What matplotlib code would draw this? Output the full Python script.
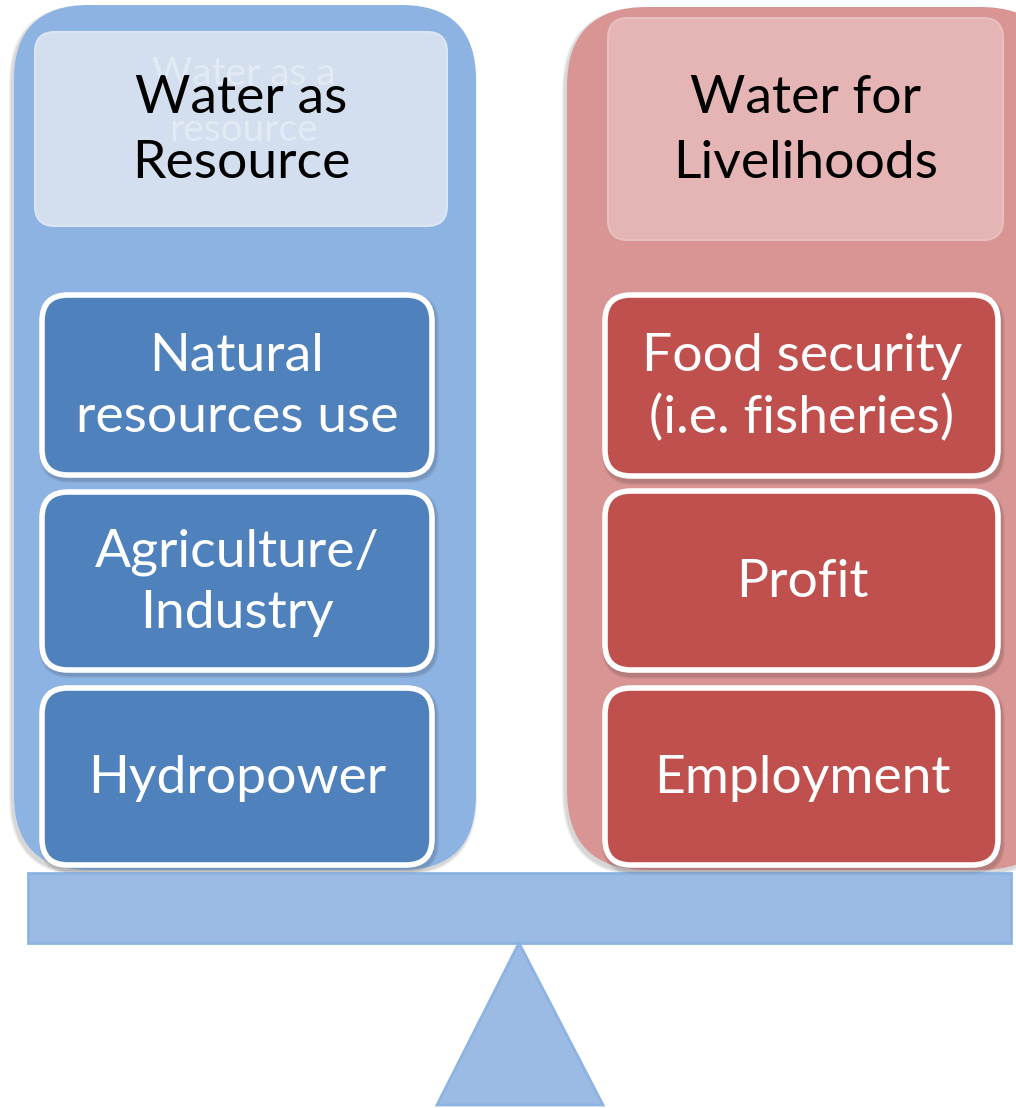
import matplotlib
matplotlib.use("Agg")
import matplotlib.pyplot as plt
from matplotlib.patches import FancyBboxPatch, Polygon, Rectangle

# ---- content ----
headers = ["Water as\nResource", "Water for\nLivelihoods"]
ghost_header = "Water as a\nresource"
left_items = ["Natural\nresources use", "Agriculture/\nIndustry", "Hydropower"]
right_items = ["Food security\n(i.e. fisheries)", "Profit", "Employment"]

# ---- colours ----
left_outer_c = "#8DB3E2"
left_head_c = "#D3DFEE"
left_item_c = "#4F81BD"
right_outer_c = "#D99594"
right_head_c = "#E5B4B4"
right_item_c = "#C0504D"
beam_c = "#9BBBE4"
beam_edge = "#8DB3E2"

W, H = 1016, 1108
fig = plt.figure(figsize=(W / 100, H / 100), dpi=100)
ax = fig.add_axes([0, 0, 1, 1])
ax.set_xlim(0, W)
ax.set_ylim(H, 0)
ax.axis("off")

FONT = "Lato"
FS = 38.5


def rbox(x0, y0, x1, y1, r, fc, ec="none", lw=0, z=1, alpha=1.0):
    p = FancyBboxPatch((x0, y0), x1 - x0, y1 - y0,
                       boxstyle=f"round,pad=0,rounding_size={r}",
                       fc=fc, ec=ec, lw=lw, zorder=z, alpha=alpha)
    ax.add_patch(p)
    return p


def shadow(x0, y0, x1, y1, r, z, dx=3, dy=4):
    for i, a in enumerate([0.05, 0.05, 0.06]):
        g = 3 - i
        rbox(x0 + dx - g, y0 + dy - g, x1 + dx + g, y1 + dy + g, r + g,
             "black", z=z, alpha=a)


# outer panels
shadow(14, 5, 476, 870, 75, 0.5, dx=-2, dy=3)
rbox(14, 5, 476, 870, 75, left_outer_c, z=1)
shadow(567, 7, 1060, 870, 80, 0.5, dx=-2, dy=3)
rbox(567, 7, 1060, 870, 80, right_outer_c, z=1)

# header boxes
rbox(35, 32, 447, 226, 20, left_head_c, ec="#DCE6F2", lw=1.5, z=2)
rbox(608, 18, 1003, 240, 20, right_head_c, ec="#E8BEBE", lw=1.5, z=2)

# beam and fulcrum
ax.add_patch(Rectangle((28, 873), 983, 70, fc=beam_c, ec=beam_edge, lw=2, zorder=1.5))
ax.add_patch(Polygon([(519, 943), (437, 1105), (603, 1105)], closed=True,
                     fc=beam_c, ec=beam_edge, lw=2, zorder=1.5))

# item boxes
left_rows = [(293, 477), (490, 672), (686, 867)]
right_rows = [(293, 478), (489, 672), (686, 867)]
for (y0, y1), txt in zip(left_rows, left_items):
    shadow(40, y0, 434, y1, 28, 2.5, dx=2, dy=3)
    rbox(42, y0 + 2, 432, y1 - 2, 26, left_item_c, ec="white", lw=4, z=3)
    ax.text(237, (y0 + y1) / 2 + 2, txt, ha="center", va="center",
            color="white", fontsize=FS, family=FONT, linespacing=1.36, zorder=4)
for (y0, y1), txt in zip(right_rows, right_items):
    shadow(603, y0, 1000, y1, 28, 2.5, dx=2, dy=4)
    rbox(605, y0 + 2, 998, y1 - 2, 26, right_item_c, ec="white", lw=4, z=3)
    ax.text(802, (y0 + y1) / 2 + 2, txt, ha="center", va="center",
            color="white", fontsize=FS, family=FONT, linespacing=1.36, zorder=4)

# header texts
ax.text(244, 102, ghost_header, ha="center", va="center", color="white",
        alpha=0.35, fontsize=28, family=FONT, linespacing=1.7, zorder=3.5)
ax.text(241, 131, headers[0], ha="center", va="center", color="black",
        fontsize=FS, family=FONT, linespacing=1.45, zorder=4)
ax.text(806, 131, headers[1], ha="center", va="center", color="black",
        fontsize=FS, family=FONT, linespacing=1.45, zorder=4)

fig.savefig("out.png", dpi=100)
